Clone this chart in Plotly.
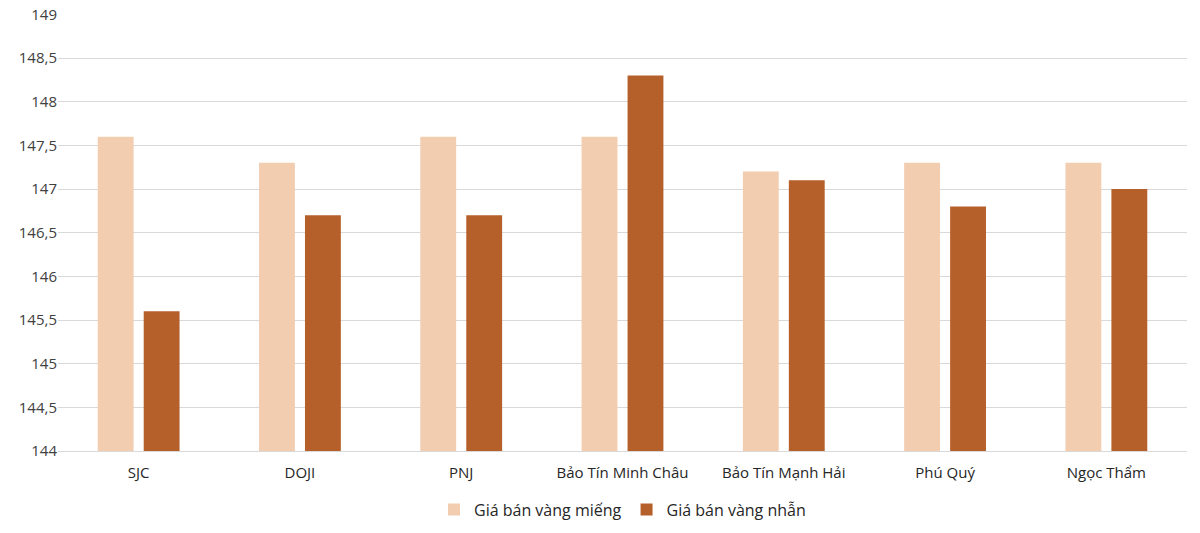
import plotly.graph_objects as go

# Dữ liệu giá vàng (triệu đồng/lượng)
companies = ["SJC", "DOJI", "PNJ", "Bảo Tín Minh Châu", "Bảo Tín Mạnh Hải", "Phú Quý", "Ngọc Thẩm"]
gia_vang_mieng = [147.6, 147.3, 147.6, 147.6, 147.2, 147.3, 147.3]
gia_vang_nhan = [145.6, 146.7, 146.7, 148.3, 147.1, 146.8, 147.0]
series_names = ["Giá bán vàng miếng", "Giá bán vàng nhẫn"]

FONT = "Open Sans, Liberation Sans, sans-serif"
TEXT = "#404040"

fig = go.Figure()
fig.add_trace(go.Bar(x=companies, y=gia_vang_mieng, name=series_names[0],
                     marker=dict(color="#F2CDB0", line=dict(width=0))))
fig.add_trace(go.Bar(x=companies, y=gia_vang_nhan, name=series_names[1],
                     marker=dict(color="#B5602A", line=dict(width=0))))

fig.update_layout(
    width=1200, height=533,
    barmode="group", bargap=0.43, bargroupgap=0.22,
    separators=",.",
    plot_bgcolor="white", paper_bgcolor="white",
    margin=dict(l=58, r=13, t=14, b=82, autoexpand=False),
    font=dict(family=FONT, size=14, color=TEXT),
    legend=dict(orientation="h", x=0.5, xanchor="center", y=-0.095, yanchor="top",
                font=dict(size=16, color="#262626"), itemwidth=30),
    showlegend=True,
)
fig.update_yaxes(range=[144, 149.005], tickvals=[144 + 0.5 * i for i in range(11)],
                 showgrid=True, gridcolor="#D9D9D9", ticklabeloverflow="allow",
                 gridwidth=1.2, zeroline=False, tickfont=dict(size=15, color=TEXT),
                 ticks="", ticklen=0, showline=False, automargin=False)
fig.update_xaxes(showline=True, linecolor="#D9D9D9", linewidth=1.2, automargin=False,
                 tickfont=dict(size=15, color="#262626"), ticks="", ticklabelstandoff=8)

# bỏ lề mặc định 8px của body để hình nằm sát góc trang
fig.write_html("out.html", config={"displayModeBar": False},
               post_script="document.body.style.margin = '0';")
